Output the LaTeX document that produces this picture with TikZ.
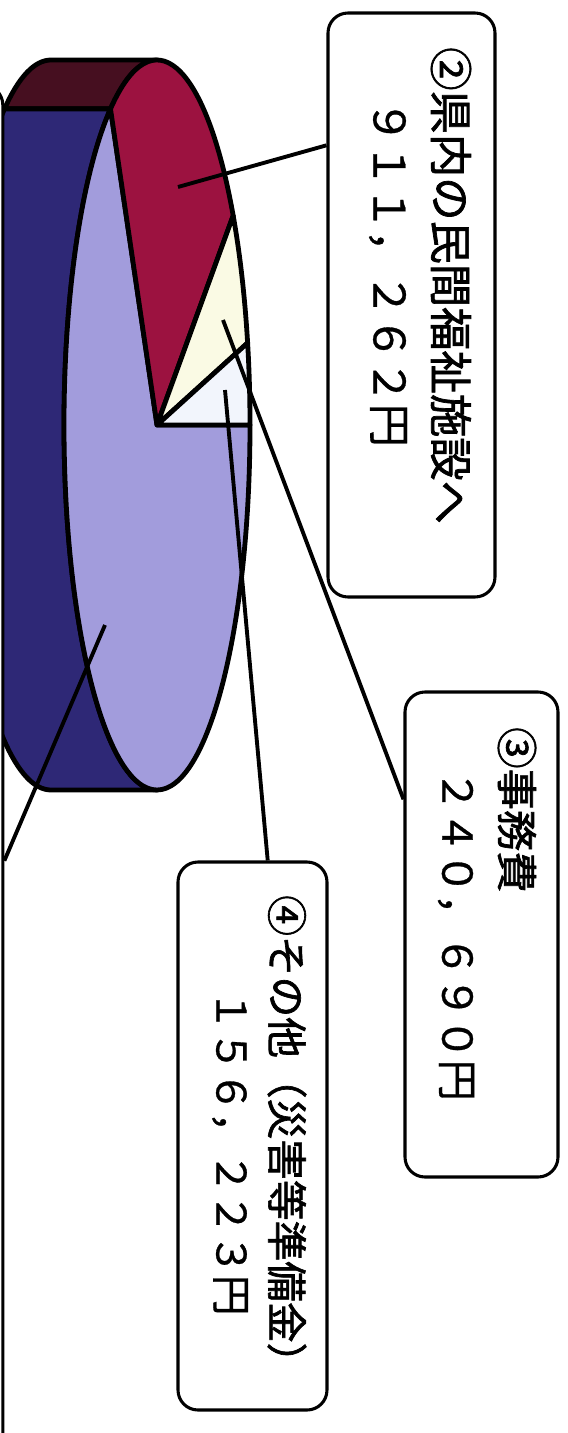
\documentclass[tikz,border=0pt]{standalone}
\usepackage{fontspec}
\newfontfamily\jpfont{Noto Sans CJK JP}[FakeBold=0.7]
\newfontfamily\jpbold{Noto Sans CJK JP}[FakeBold=1.6]
\usetikzlibrary{calc}

\definecolor{lavenderTop}{RGB}{162,156,220}
\definecolor{navySide}{RGB}{46,40,118}
\definecolor{crimsonTop}{RGB}{156,18,64}
\definecolor{maroonSide}{RGB}{70,15,32}
\definecolor{creamTop}{RGB}{250,250,228}
\definecolor{paleTop}{RGB}{242,245,252}

\begin{document}
\begin{tikzpicture}[x=0.75pt,y=0.75pt,yscale=-1,xscale=1,
	pieradii/.style={x radius=93, y radius=365},
	pieline/.style={draw=black, line width=3.6pt, line join=round},
	leader/.style={line width=2.9pt},
	callout/.style={draw, line width=2.3pt, rounded corners=15pt, fill=white, inner sep=0pt},
	vtext/.style={rotate=-90, anchor=west, inner sep=0pt, font=\jpfont}]
	\clip (0,0) rectangle (567,1433);
	\fill[white] (0,0) rectangle (567,1433);

	% Pie centres (top face and shifted back face)
	\coordinate (c) at (157,425);
	\coordinate (cs) at (51,425);

	% Side of slice 2
	\path[pieline, fill=maroonSide] (c) ++(240:93 and 365) arc[start angle=240, end angle=270, pieradii]
		-- ($(cs)+(270:93 and 365)$) arc[start angle=270, end angle=240, pieradii] -- cycle;
	% Side of slice 1
	\path[pieline, fill=navySide] (c) ++(90:93 and 365) arc[start angle=90, end angle=240, pieradii]
		-- ($(cs)+(240:93 and 365)$) arc[start angle=240, end angle=90, pieradii] -- cycle;

	% Slice 1
	\path[pieline, fill=lavenderTop] (c) -- ++(0:93 and 365) arc[start angle=0, end angle=240, pieradii] -- cycle;
	% Slice 2
	\path[pieline, fill=crimsonTop] (c) -- ++(240:93 and 365) arc[start angle=240, end angle=325, pieradii] -- cycle;
	% Slice 3
	\path[pieline, fill=creamTop] (c) -- ++(325:93 and 365) arc[start angle=325, end angle=347, pieradii] -- cycle;
	% Slice 4
	\path[pieline, fill=paleTop] (c) -- ++(347:93 and 365) arc[start angle=347, end angle=360, pieradii] -- cycle;

	% Callout 1 (cut off at the left, it hides the far side of the pie)
	\node[callout, minimum width=152pt, minimum height=1136.25pt] (box1) at (-98.5,842.5) {};

	% Callouts
	\node[callout, minimum width=125.25pt, minimum height=438pt] (box2) at (411.5,305) {};
	\node[callout, minimum width=114.75pt, minimum height=363.75pt] (box3) at (481.5,934.5) {};
	\node[callout, minimum width=111.75pt, minimum height=411pt] (box4) at (252.5,1136) {};

	% Connection
	\draw[leader] (105,625) -- ($(box1.north east)!0.512!(box1.south east)$);
	% Connection
	\draw[leader] (178,187) -- ($(box2.north west)!0.228!(box2.south west)$);
	% Connection
	\draw[leader] (223,320) -- ($(box3.north west)!0.223!(box3.south west)$);
	% Connection
	\draw[leader] (225,390) -- ($(box4.north west)!0.6!(box4.north east)$);

	% Text Node
	\node[vtext, font=\jpbold\fontsize{32.5}{32.5}\selectfont] (t2a) at (451,47) {②県内の民間福祉施設へ};
	\node[vtext, font=\jpfont\fontsize{32.5}{32.5}\selectfont] (t2b) at (388,100) {９１１，２６２円};
	% Text Node
	\node[vtext, font=\jpbold\fontsize{31}{31}\selectfont] (t3a) at (517,727) {③事務費};
	\node[vtext, font=\jpfont\fontsize{31}{31}\selectfont] (t3b) at (456,770) {２４０，６９０円};
	% Text Node
	\node[vtext, font=\jpbold\fontsize{30.5}{30.5}\selectfont] (t4a) at (287,895) {④その他（災害等準備金）};
	\node[vtext, font=\jpfont\fontsize{30.5}{30.5}\selectfont] (t4b) at (230,990) {１５６，２２３円};
\end{tikzpicture}
\end{document}
